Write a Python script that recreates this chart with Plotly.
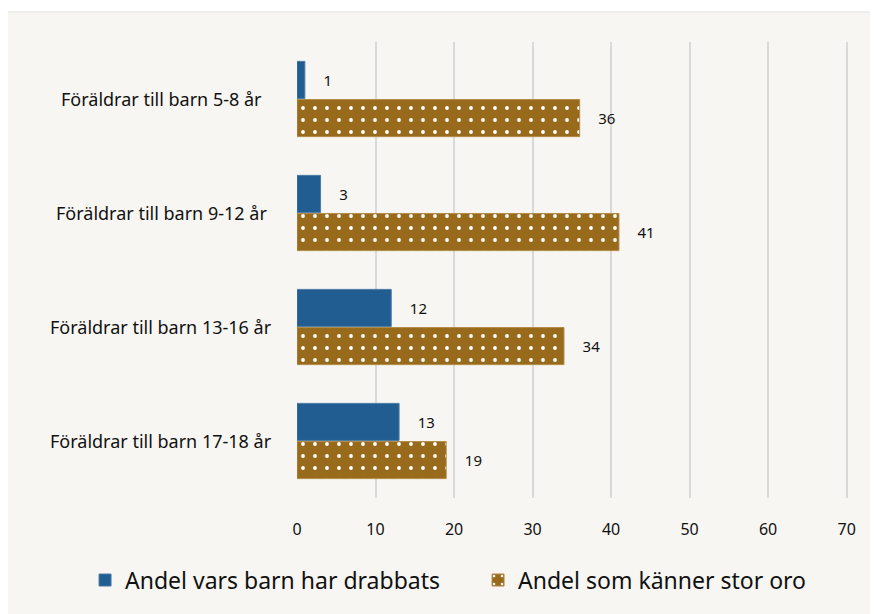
import plotly.graph_objects as go

# data
categories = ['Föräldrar till barn 5-8 år', 'Föräldrar till barn 9-12 år',
              'Föräldrar till barn 13-16 år', 'Föräldrar till barn 17-18 år']
drabbats = [1, 3, 12, 13]
oro = [36, 41, 34, 19]
series_names = ['Andel vars barn har drabbats', 'Andel som känner stor oro']

blue = '#215D90'
gold = '#976B1B'
font = 'Noto Sans'

fig = go.Figure()

fig.add_trace(go.Bar(
	y=categories, x=drabbats, orientation='h', name=series_names[0],
	marker={'color': blue, 'line': {'color': '#4A7AA8', 'width': 1}},
	text=drabbats, texttemplate='    %{x}', textposition='outside',
	textfont={'size': 15, 'color': '#111111', 'family': font},
	cliponaxis=False,
))

fig.add_trace(go.Bar(
	y=categories, x=oro, orientation='h', name=series_names[1],
	marker={'color': gold, 'line': {'color': '#B08A45', 'width': 1},
		'pattern': {'shape': '.', 'fgcolor': '#FFFFFF', 'fgopacity': 1, 'bgcolor': gold,
			'size': 12, 'solidity': 0.08}},
	text=oro, texttemplate='    %{x}', textposition='outside',
	textfont={'size': 15, 'color': '#111111', 'family': font},
	cliponaxis=False,
))

# category labels centred to the left of the plot
for c in categories:
	fig.add_annotation(x=-0.2455, xref='paper', y=c, yref='y', text=c,
		showarrow=False, xanchor='center', yanchor='middle',
		font={'size': 18, 'color': '#111111', 'family': font})

# beige panel behind the chart
fig.add_shape(type='rect', xref='paper', yref='paper', x0=-0.533, x1=1.06,
	y0=-0.26, y1=1.066, fillcolor='#F7F6F2', line={'color': '#E2E2E2', 'width': 1},
	layer='below')

fig.update_layout(
	width=870, height=606,
	margin={'l': 289, 'r': 29, 't': 34, 'b': 116, 'autoexpand': False},
	paper_bgcolor='white', plot_bgcolor='rgba(0,0,0,0)',
	barmode='group', bargap=0.33, bargroupgap=0.03,
	font={'family': font, 'color': '#111111'},
	showlegend=True,
	legend={'orientation': 'h', 'x': -0.384, 'xanchor': 'left', 'y': -0.18,
		'yanchor': 'middle', 'font': {'size': 23, 'family': font},
		'traceorder': 'normal', 'entrywidth': 348, 'itemwidth': 30,
		'bgcolor': 'rgba(0,0,0,0)'},
	xaxis={'range': [0, 70.3], 'dtick': 10, 'showgrid': True, 'gridcolor': '#D9D9D9',
		'gridwidth': 1.5, 'zeroline': False, 'showline': False,
		'tickfont': {'size': 16, 'family': font}, 'ticks': '', 'ticklen': 0,
		'ticklabelstandoff': 20},
	yaxis={'autorange': 'reversed', 'showticklabels': False, 'showgrid': False,
		'zeroline': False, 'showline': False},
)

fig.write_html('out.html')
